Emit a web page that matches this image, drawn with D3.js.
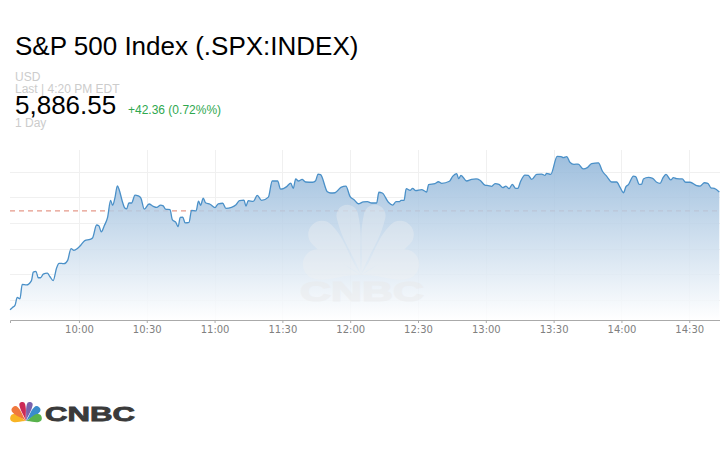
<!DOCTYPE html>
<html><head><meta charset="utf-8">
<script src="https://cdnjs.cloudflare.com/ajax/libs/d3/7.8.5/d3.min.js"></script>
<style>html,body{margin:0;padding:0;background:#fff}svg{display:block}</style></head>
<body><svg id="c" width="720" height="450"></svg>
<script>
const title = "S&P 500 Index (.SPX:INDEX)";
const currency = "USD";
const lastLabel = "Last | 4:20 PM EDT";
const lastPrice = "5,886.55";
const changeLabel = "+42.36 (0.72%%)";
const rangeLabel = "1 Day";
const previousClose = 5844.7;
// minutes after 09:30
const minutes = [-0.5,0.6,1.7,2.7,3.9,4.9,6.8,9,9.8,11,12,13,14.2,16,17.2,18.6,20.1,21.2,22.3,23.4,25,26.5,27.8,29.3,30.9,32.6,34.9,36,37.8,38.8,39.9,41.2,42.7,44,44.9,45.9,47,47.8,49.2,50.3,51.1,52.1,53.3,54.8,56.2,57.4,58.9,61,62.9,64.4,66.1,67.3,68.3,70.3,71.3,72.8,73.9,74.8,75.9,77,78.7,79.8,81.8,82.9,83.8,85,86,88,90.2,91.6,93.6,95,97.5,99.5,101,
103,103.9,104.9,107.1,108.9,110.8,113.8,115.5,117.9,119.2,120.4,121.9,123.7,124.8,125.9,127.1,128.7,130.3,133.4,134.7,135.8,136.9,139.9,141.4,143.3,145.9,148.1,149.9,151.7,153.6,155.8,157.6,159.5,161.7,162.7,164.2,166.9,168.8,170.3,171.7,172.5,173.8,174.8,176.5,177.6,179,181.6,183.8,184.7,187.5,189,190.5,193.9,195.3,197.1,198,199,201.5,203.7,205.7,
207.4,209.6,211.1,212.6,214.1,215.8,217.5,218.9,220.3,221.7,223.2,224.1,225.4,227.3,228.8,230.3,232.5,234.7,236.2,236.9,238.7,241.6,243.3,244.3,245.8,247.2,249,250.9,253.1,254.9,256.8,259.8,261.6,263.5,265.7,267.9,269.4,270.9,272,273.1,275.3,276.3,277.9,279,279.7,281.9,283.8,285.6,287.1,288.3,289.7,291.8,293,294.4,296.9,298.4,300.4,303.3,304.8,306.7,308.2,309.6,311.1,313.3];
const prices = [5806.1,5807,5807.8,5810.9,5810.4,5816,5815.8,5817.5,5820.8,5821.1,5818.6,5818.6,5820,5820.4,5819,5817.5,5822.4,5824.2,5824.2,5824.1,5825.4,5830,5829.3,5830,5831.4,5833.1,5833.6,5834.1,5839.2,5838.9,5836.5,5838.9,5842.3,5848.8,5846.9,5849.7,5854.5,5853,5848.4,5845.8,5845.5,5847.8,5847.8,5850.9,5850.6,5849.7,5845.4,5847.4,5846.5,5846.1,5847,5846.7,5845.4,5845.2,5841.3,5840.3,5838.6,5842.2,5842.3,5840,5840.2,5844.9,5844.7,5848.5,5846.9,5849.7,5847.9,5847.3,5846,5847.5,5847.7,5845.7,5846.1,5847.1,5848.7,
5848.9,5846.6,5848.7,5848.4,5850.8,5848.8,5850.1,5856.4,5856.4,5853.2,5853.4,5854.2,5855.6,5853.5,5857.2,5856.4,5857,5856,5855.9,5856.5,5859.1,5858.9,5852.2,5851.7,5851.8,5853.9,5854.4,5850.4,5849.1,5847.5,5848.2,5848.3,5847.8,5847.8,5852,5851.7,5848.1,5847,5848.3,5848.3,5848.8,5848.8,5853.4,5852.7,5853.5,5852.6,5853,5852.1,5855,5855.4,5856.1,5855.5,5856.3,5858.2,5859.3,5857.3,5858.6,5856.4,5857,5857.2,
5856.7,5854.8,5854.6,5854.3,5855.4,5855.1,5853.8,5854.4,5853.4,5855.1,5853.5,5853.5,5856.3,5858.7,5858.6,5857,5859,5859.1,5858.6,5859.4,5859,5866,5865.9,5865.5,5865.9,5863.7,5862.9,5863,5861.1,5861.6,5863.2,5863.5,5860.2,5858.2,5856,5856,5853.9,5851.8,5854.2,5855,5858.3,5858.1,5855.1,5855.2,5857.2,5857.8,5857.4,5855.9,5855.5,5857.5,5859,5856.8,5857.7,5857.3,5857.2,5855.9,5855.9,5854.6,5854.4,5855.7,5855.5,5853.7,5853.5,5852.1];
const tickMinutes = [30,60,90,120,150,180,210,240,270,300];
const tickLabels = ["10:00","10:30","11:00","11:30","12:00","12:30","13:00","13:30","14:00","14:30"];
const gridPrices = [5810,5820,5830,5840,5850,5860];
const feathers = [
 {a:-76,w:4.3,l:17,c:"#f8b424"},{a:-44,w:3.9,l:20,c:"#f0783c"},{a:-13,w:3.1,l:20.5,c:"#cc2a56"},
 {a:13,w:3.1,l:20.5,c:"#7a62ac"},{a:44,w:3.9,l:20,c:"#3a8ccc"},{a:76,w:4.3,l:17,c:"#58b24c"}];

const svg = d3.select("#c");
const sans = "'Liberation Sans',Arial,sans-serif";
const x = d3.scaleLinear().domain([-0.5,313.6]).range([10,720]);
const y = d3.scaleLinear().domain([5802.1,5868.5]).range([320,150]);
const pts = minutes.map((m,i)=>[m,prices[i]]);

const txt=(s,px,py,size,fill,font)=>svg.append("text").attr("x",px).attr("y",py).attr("font-size",size).attr("fill",fill).attr("font-family",font||sans).text(s);
txt(title,15,55,26,"#000");
txt(currency,15,81,12,"#ccc");
txt(lastLabel,15,93,12,"#ccc");
txt(lastPrice,15,114,26,"#000");
txt(changeLabel,128,114,12,"#2fa84f");
txt(rangeLabel,15,127,12,"#ccc");

const defs = svg.append("defs");
const g = defs.append("linearGradient").attr("id","ag").attr("gradientUnits","userSpaceOnUse").attr("x1",0).attr("x2",0).attr("y1",157).attr("y2",320);
g.append("stop").attr("offset",0).attr("stop-color","rgb(142,180,216)").attr("stop-opacity",.85);
g.append("stop").attr("offset",1).attr("stop-color","#fff").attr("stop-opacity",.85);

const grid = svg.append("g").attr("stroke","#f0f0f0").attr("stroke-width",1);
grid.selectAll("line.h").data(gridPrices).join("line").attr("class","h")
 .attr("x1",10).attr("x2",720).attr("y1",d=>Math.round(y(d))+.5).attr("y2",d=>Math.round(y(d))+.5);
grid.selectAll("line.v").data(tickMinutes).join("line").attr("class","v")
 .attr("y1",150).attr("y2",320).attr("x1",d=>Math.round(x(d))+.5).attr("x2",d=>Math.round(x(d))+.5);

svg.append("line").attr("x1",10).attr("x2",720).attr("y1",y(previousClose)).attr("y2",y(previousClose))
 .attr("stroke","#e5998a").attr("stroke-width",1.3).attr("stroke-dasharray","5,4");

svg.append("path").datum(pts).attr("fill","url(#ag)")
 .attr("d",d3.area().x(d=>x(d[0])).y0(y.range()[0]).y1(d=>y(d[1])).curve(d3.curveMonotoneX));

function feather(w,l){return `M0,0C${-.3*w},${-.35*l} ${-w},${-.5*l} ${-w},${-(l-w)}A${w},${w} 0 0 1 ${w},${-(l-w)}C${w},${-.5*l} ${.3*w},${-.35*l} 0,0Z`;}
function peacock(cx,cy,s,colorOf,op){
  const p=svg.append("g").attr("transform",`translate(${cx},${cy}) scale(${s})`).attr("opacity",op);
  p.selectAll("path").data(feathers).join("path").attr("d",d=>feather(d.w,d.l)).attr("fill",colorOf)
   .attr("transform",d=>`rotate(${d.a})`);
}
function wordmark(px,py,size,len,fill,op){
  svg.append("text").attr("x",px).attr("y",py).attr("font-size",size).attr("font-weight",700).attr("font-family",sans)
   .attr("fill",fill).attr("stroke",fill).attr("stroke-width",size*.04).attr("opacity",op)
   .attr("textLength",len).attr("lengthAdjust","spacingAndGlyphs").text("CNBC");
}
peacock(361,275,3.5,()=>"#f2f2f2",.35);
wordmark(300,301,28,124,"#e8e8e8",.4);

svg.append("path").datum(pts).attr("fill","none").attr("stroke","#4a90c8").attr("stroke-width",1.3)
 .attr("d",d3.line().x(d=>x(d[0])).y(d=>y(d[1])).curve(d3.curveMonotoneX));

const ax = svg.append("g").attr("transform","translate(0,320)")
 .call(d3.axisBottom(x).tickValues(tickMinutes).tickFormat((d,i)=>tickLabels[i]).tickSizeOuter(0).tickSize(3).tickPadding(3));
ax.select(".domain").attr("stroke","#aaa");
ax.selectAll("line").attr("stroke","#aaa");
ax.selectAll("text").attr("fill","#808080").attr("font-size",10).attr("font-family","'DejaVu Sans',sans-serif");

peacock(26,421,.95,d=>d.c,1);
wordmark(45,421,21,90,"#3a3a3a",1);
</script></body></html>
